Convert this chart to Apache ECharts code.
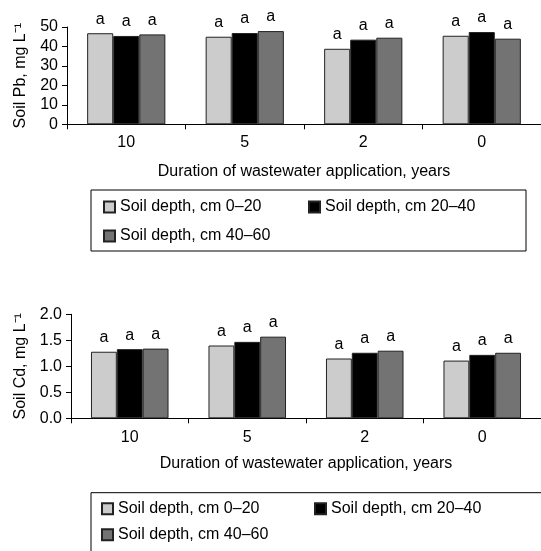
<!DOCTYPE html>
<html>
<head>
<meta charset="utf-8">
<script src="https://cdn.jsdelivr.net/npm/echarts@6/dist/echarts.min.js"></script>
<style>html,body{margin:0;padding:0;background:#fff}#c{width:541px;height:551px}</style>
</head>
<body>
<div id="c"></div>
<script>
const categories = ['10', '5', '2', '0'];
const seriesNames = ['Soil depth, cm 0\u201320', 'Soil depth, cm 20\u201340', 'Soil depth, cm 40\u201360'];
const pb0_20 = [46.8, 45.0, 38.8, 45.5];
const pb20_40 = [45.4, 46.9, 43.5, 47.4];
const pb40_60 = [46.2, 47.9, 44.5, 44.0];
const cd0_20 = [1.28, 1.40, 1.15, 1.11];
const cd20_40 = [1.33, 1.47, 1.26, 1.22];
const cd40_60 = [1.34, 1.57, 1.30, 1.26];
const sigPb = [['a','a','a','a'], ['a','a','a','a'], ['a','a','a','a']];
const sigCd = [['a','a','a','a'], ['a','a','a','a'], ['a','a','a','a']];
const pbTicks = {min: 0, max: 50, interval: 10};
const cdTicks = {min: 0, max: 2, interval: 0.5};

const FONT = "'Liberation Sans', Arial, Helvetica, sans-serif";
const colors = ['#cccccc', '#000000', '#737373'];

function mkSeries(dataSets, sig, idx) {
  return dataSets.map((d, i) => ({
    name: seriesNames[i],
    type: 'bar',
    xAxisIndex: idx, yAxisIndex: idx,
    data: d,
    barGap: '0%',
    barCategoryGap: '34%',
    itemStyle: {color: colors[i], borderColor: '#222', borderWidth: 1},
    label: {
      show: true, position: 'top', distance: 6,
      formatter: p => sig[i][p.dataIndex],
      color: '#000', fontSize: 16, fontFamily: FONT
    },
    emphasis: {disabled: true},
    animation: false
  }));
}

function xAxis(idx, gap, margin) {
  return {
    type: 'category', gridIndex: idx, data: categories,
    name: 'Duration of wastewater application, years',
    nameLocation: 'middle', nameGap: gap,
    nameTextStyle: {fontSize: 16, fontFamily: FONT, color: '#000'},
    axisLine: {lineStyle: {color: '#000', width: 1}},
    axisTick: {show: true, length: 5, lineStyle: {color: '#000'}},
    axisLabel: {fontSize: 16, fontFamily: FONT, color: '#000', margin: margin},
    splitLine: {show: false}
  };
}
function yAxis(idx, name, t, gap, fmt) {
  return {
    type: 'value', gridIndex: idx, min: t.min, max: t.max, interval: t.interval,
    name: name, nameLocation: 'middle', nameGap: gap,
    nameTextStyle: {fontSize: 16, fontFamily: FONT, color: '#000'},
    axisLine: {show: true, lineStyle: {color: '#000', width: 1}},
    axisTick: {show: true, length: 5, lineStyle: {color: '#000'}},
    axisLabel: {fontSize: 16, fontFamily: FONT, color: '#000', margin: 9, formatter: fmt},
    splitLine: {show: false}
  };
}
function legend(top, pad, gap, w) {
  return {
    top: top, left: 91, orient: 'horizontal', width: 420,
    itemWidth: 11, itemHeight: 11, itemGap: gap,
    padding: pad,
    borderColor: '#000', borderWidth: 1,
    icon: 'rect',
    selectedMode: false,
    data: seriesNames,
    textStyle: {fontSize: 16, fontFamily: FONT, color: '#000', width: w, lineHeight: 16}
  };
}

const chart = echarts.init(document.getElementById('c'), null, {renderer: 'canvas'});
chart.setOption({
  animation: false,
  backgroundColor: '#fff',
  grid: [
    {left: 67, top: 27, width: 479, height: 97.3},
    {left: 71, top: 314.3, width: 480, height: 104}
  ],
  xAxis: [xAxis(0, 39, 10), xAxis(1, 37, 11)],
  yAxis: [
    yAxis(0, 'Soil Pb, mg L\u207B\u00B9', pbTicks, 38, v => String(v)),
    yAxis(1, 'Soil Cd, mg L\u207B\u00B9', cdTicks, 42, v => v.toFixed(1))
  ],
  legend: [
    legend(190, [9, 26, 7, 12], 13, 175),
    legend(492.7, [8, 26, 14, 10], 10, 186)
  ],
  series: [
    ...mkSeries([pb0_20, pb20_40, pb40_60], sigPb, 0),
    ...mkSeries([cd0_20, cd20_40, cd40_60], sigCd, 1)
  ]
});
</script>
</body>
</html>
